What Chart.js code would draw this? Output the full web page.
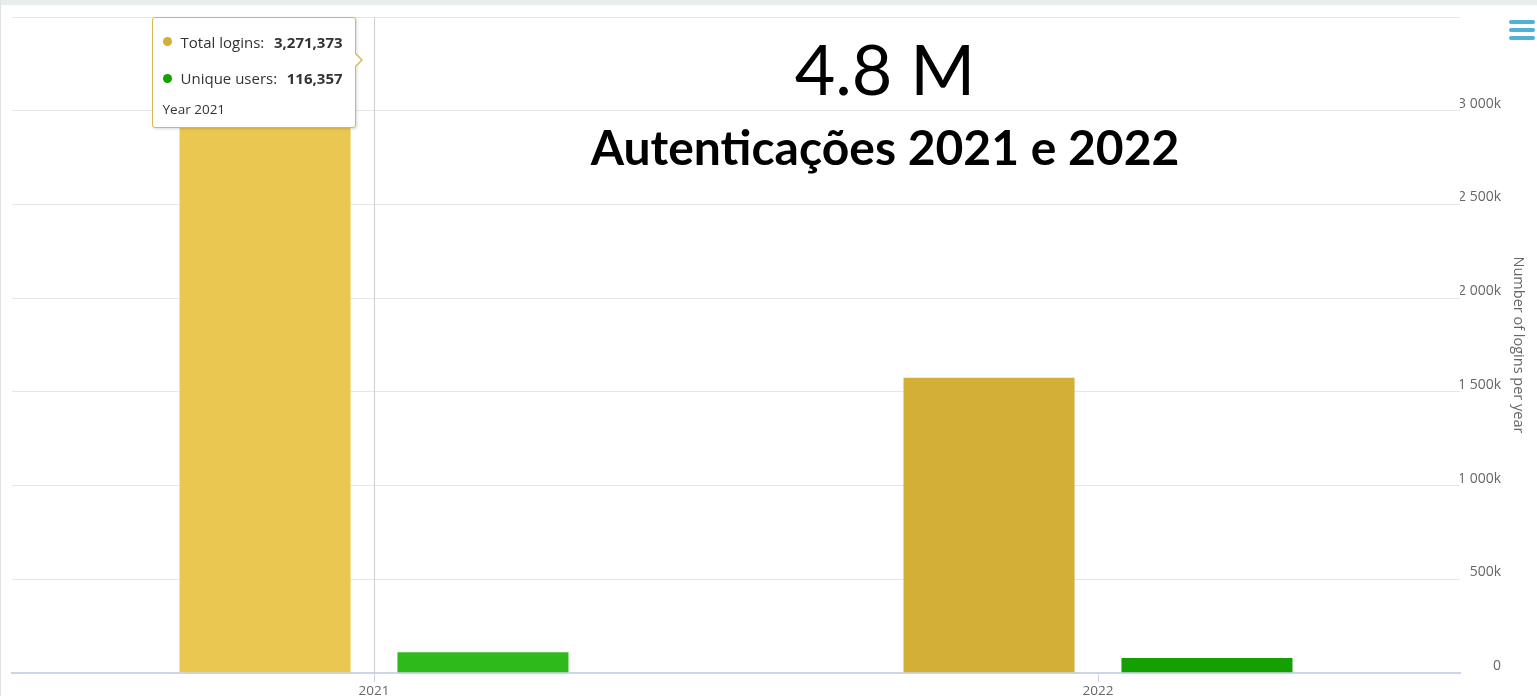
<!DOCTYPE html>
<html>
<head>
<meta charset="utf-8">
<script src="https://cdn.jsdelivr.net/npm/chart.js@4.4.0/dist/chart.umd.min.js"></script>
<style>
    body { margin: 0; width: 1537px; height: 696px; overflow: hidden; position: relative; background: #fff; font-family: "Open Sans", sans-serif; }
    #topStrip { position: absolute; left: 0; top: 0; width: 1537px; height: 5px; background: #e8eeee; }
    #leftBorder { position: absolute; left: 0; top: 0; width: 1px; height: 696px; background: #e2e2e2; }
    #chartBox { position: absolute; left: 0; top: 0; width: 1537px; height: 696px; }
    .headline { position: absolute; left: 485px; width: 800px; text-align: center; color: #000; font-family: Lato, sans-serif; line-height: 1; white-space: nowrap; }
    #bigValue { top: 33px; font-size: 70px; }
    #bigTitle { top: 123px; font-size: 48px; font-weight: bold; }
    #menuIcon { position: absolute; left: 1509px; top: 20px; width: 26px; }
    #menuIcon span { display: block; height: 4px; margin-bottom: 4px; border-radius: 2px; background: #4fb0d8; }
    #loginTooltip { position: absolute; display: none; box-sizing: border-box; width: 204px; height: 111px; padding: 6px 12px 0 10px;
        background: #fff; border: 1px solid #d9b850; border-radius: 3px; box-shadow: 1px 1px 3px rgba(0,0,0,0.15); color: #333; font-size: 15px; }
    #loginTooltip:before { content: ''; position: absolute; right: -8px; top: 35px; border-top: 7px solid transparent; border-bottom: 7px solid transparent; border-left: 7px solid #d9b850; }
    #loginTooltip:after { content: ''; position: absolute; right: -6px; top: 36px; border-top: 6px solid transparent; border-bottom: 6px solid transparent; border-left: 6px solid #fff; }
    .tipRow { display: flex; align-items: center; white-space: nowrap; }
    .tipDot { width: 9px; height: 9px; border-radius: 50%; margin-right: 9px; flex: none; }
    .tipValue { margin-left: auto; font-weight: bold; font-size: 15px; }
    .tipYear { font-size: 13.5px; height: 24px; line-height: 24px; }
</style>
</head>
<body>
<div id="topStrip"></div>
<div id="leftBorder"></div>
<div id="chartBox"><canvas id="logins-per-year-plot" width="1537" height="696"></canvas></div>
<div class="headline" id="bigValue">4.8 M</div>
<div class="headline" id="bigTitle">Autenticações 2021 e 2022</div>
<div id="menuIcon"><span></span><span></span><span></span></div>
<div id="loginTooltip"></div>

<script>
// data
const years = ["2021", "2022"];
const totalLogins = [3271373, 1580000];
const uniqueUsers = [116357, 86000];
const seriesLabels = ["Total logins", "Unique users"];
const seriesColors = ["#d4af37", "#14a000"];
const yMax = 3500000;
const yStep = 500000;

function formatThousandsK(value) {
    if (value === 0) return "0";
    if (value >= yMax) return ""; // top label is cut off in the original
    const k = String(value / 1000);
    return k.replace(/\B(?=(\d{3})+(?!\d))/g, " ") + "k";
}

// put the tooltip just right of the hovered total bar
Chart.Tooltip.positioners.besideBar = function (elements) {
    if (!elements.length) return false;
    const bar = elements[0].element;
    return { x: bar.x + bar.width / 2 + 11, y: bar.y };
};

function drawLoginTooltip(context) {
    const tooltip = context.tooltip;
    const el = document.getElementById("loginTooltip");
    if (tooltip.opacity === 0 || !tooltip.dataPoints) {
        el.style.display = "none";
        return;
    }
    let html = "";
    const heights = [36, 37];
    tooltip.dataPoints.forEach((point, i) => {
        html += '<div class="tipRow" style="height:' + heights[i] + 'px">' +
            '<span class="tipDot" style="background:' + seriesColors[point.datasetIndex] + '"></span>' +
            '<span>' + point.dataset.label + ':</span>' +
            '<span class="tipValue">' + point.raw.toLocaleString("en-US") + '</span></div>';
    });
    html += '<div class="tipYear">Year ' + tooltip.dataPoints[0].label + '</div>';
    el.innerHTML = html;
    el.style.display = "block";
    const canvasRect = context.chart.canvas.getBoundingClientRect();
    el.style.left = (canvasRect.left + tooltip.caretX - 7 - 204) + "px";
    el.style.top = (canvasRect.top + tooltip.caretY - 43) + "px";
}

// grey vertical line through the hovered category, behind the bars
const crosshairPlugin = {
    id: "crosshair",
    beforeDatasetsDraw(chart) {
        const active = chart.tooltip.getActiveElements();
        if (!active.length) return;
        const x = Math.round(chart.scales.x.getPixelForValue(active[0].index)) + 0.5;
        const ctx = chart.ctx;
        ctx.save();
        ctx.strokeStyle = "#cccccc";
        ctx.lineWidth = 1;
        ctx.beginPath();
        ctx.moveTo(x, chart.chartArea.top);
        ctx.lineTo(x, chart.chartArea.bottom);
        ctx.stroke();
        ctx.restore();
    }
};

Chart.defaults.font.family = "'Open Sans', sans-serif";
Chart.defaults.color = "#666666";

const loginsChart = new Chart("logins-per-year-plot", {
    type: "bar",
    data: {
        labels: years,
        datasets: [
            {
                label: seriesLabels[0],
                data: totalLogins,
                backgroundColor: ["#eac750", "#d3af37"],
                hoverBackgroundColor: ["#eac750", "#d3af37"],
                borderColor: "rgba(255,255,255,0.5)",
                borderWidth: 1,
                categoryPercentage: 0.602,
                barPercentage: 0.794
            },
            {
                label: seriesLabels[1],
                data: uniqueUsers,
                backgroundColor: ["#2eba1a", "#14a000"],
                hoverBackgroundColor: ["#2eba1a", "#14a000"],
                borderColor: "rgba(255,255,255,0.5)",
                borderWidth: 1,
                categoryPercentage: 0.602,
                barPercentage: 0.794
            }
        ]
    },
    options: {
        responsive: false,
        animation: false,
        events: [],
        // right padding lets the "far" aligned tick labels end before the axis title
        layout: { padding: { left: 12, top: 17, right: 36, bottom: 0 } },
        plugins: {
            legend: { display: false },
            title: { display: false },
            tooltip: {
                enabled: false,
                mode: "index",
                intersect: false,
                position: "besideBar",
                external: drawLoginTooltip
            }
        },
        scales: {
            x: {
                offset: true,
                grid: {
                    offset: false,
                    drawOnChartArea: false,
                    drawTicks: true,
                    tickLength: 9,
                    color: "#ccd6eb"
                },
                border: { display: true, color: "#ccd6eb", width: 2 },
                ticks: { padding: 1, font: { size: 13.5 }, color: "#666666" },
                afterFit: scale => { scale.height = 23; }
            },
            y: {
                position: "right",
                min: 0,
                max: yMax,
                grid: { color: "#e6e6e6", lineWidth: 1, drawTicks: false },
                border: { display: false },
                ticks: {
                    stepSize: yStep,
                    crossAlign: "far",
                    padding: 3,
                    labelOffset: -7,
                    font: { size: 14 },
                    color: "#666666",
                    callback: value => formatThousandsK(value)
                },
                title: {
                    display: true,
                    text: "Number of logins per year",
                    color: "#666666",
                    font: { size: 14.5 },
                    padding: { top: -26, bottom: 0 }
                },
                afterFit: scale => { scale.width = 41; }
            }
        }
    },
    plugins: [crosshairPlugin]
});

loginsChart.tooltip.setActiveElements(
    [{ datasetIndex: 0, index: 0 }, { datasetIndex: 1, index: 0 }],
    { x: 0, y: 0 }
);
loginsChart.update();
</script>
</body>
</html>
